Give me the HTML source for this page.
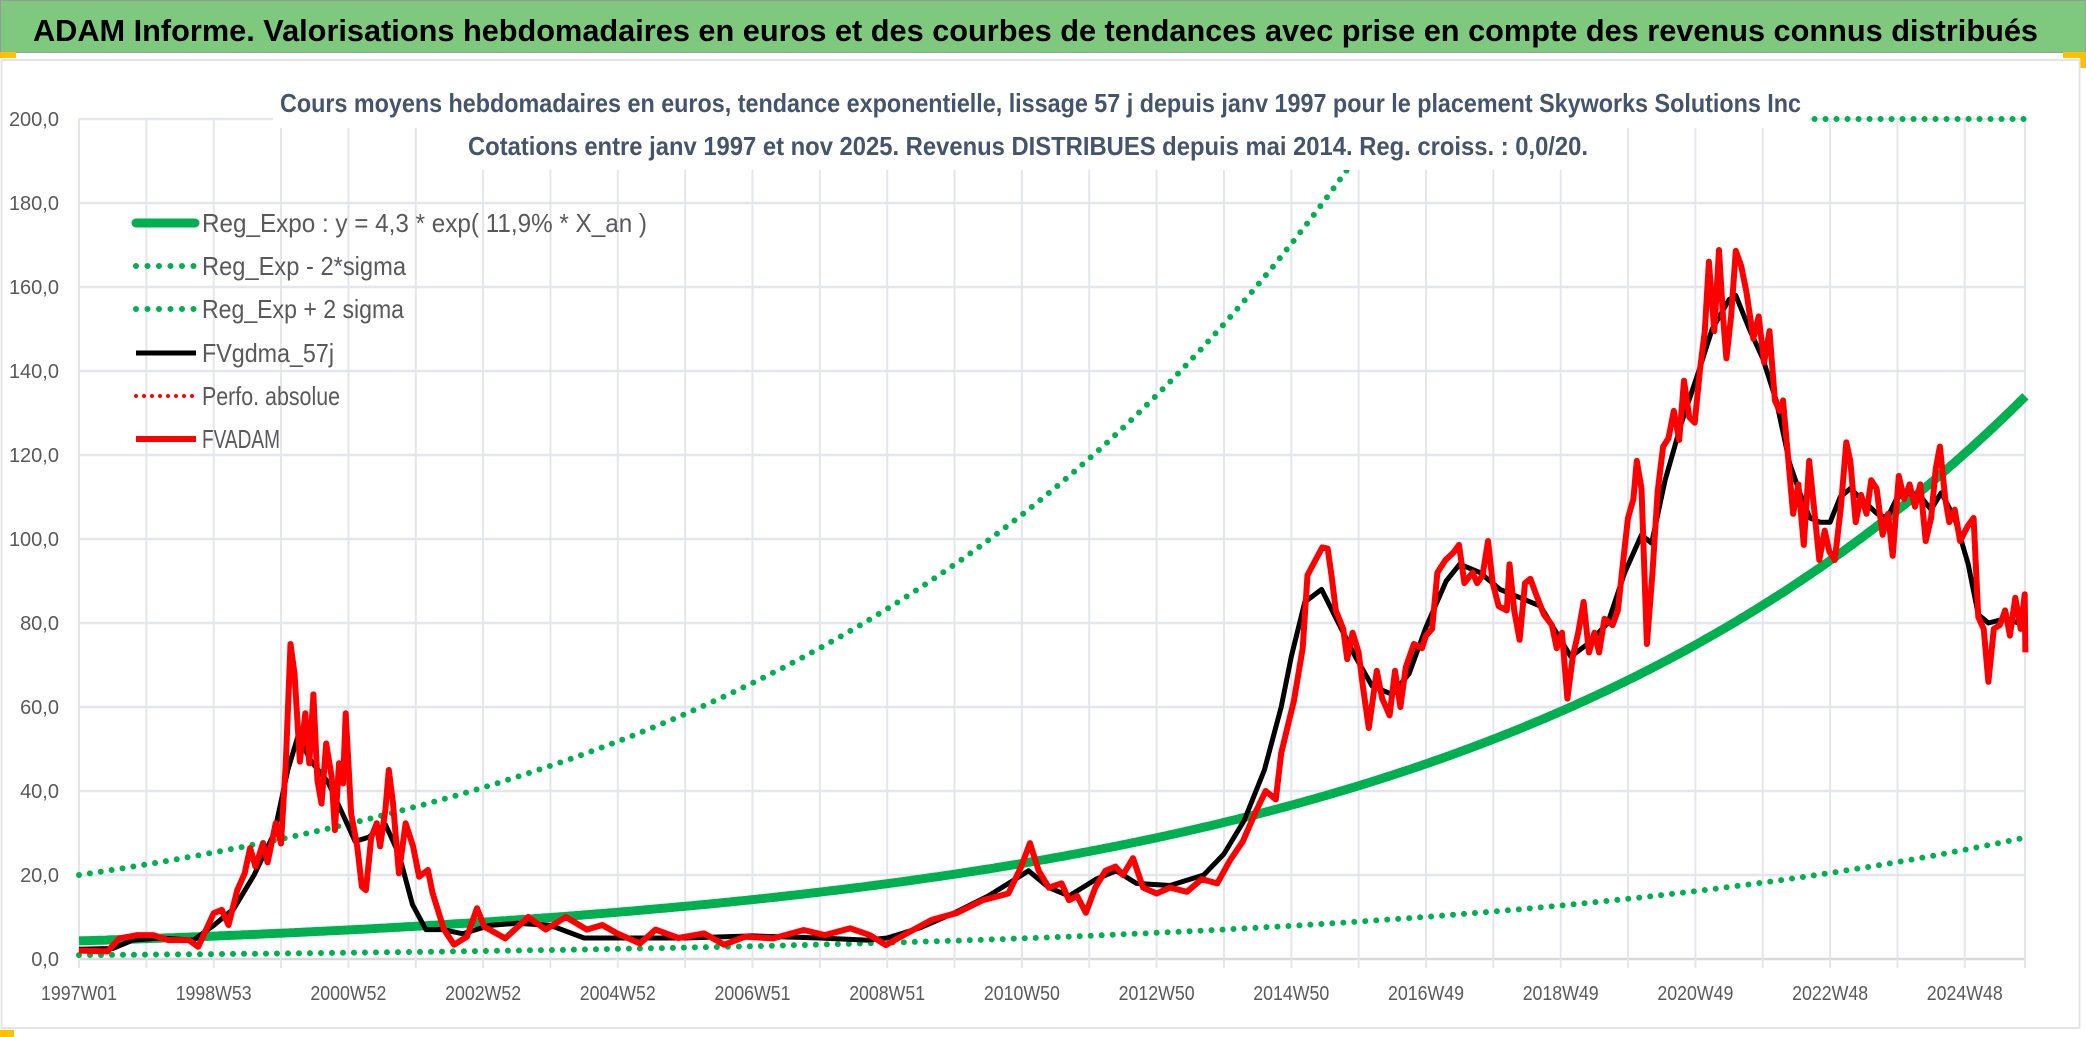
<!DOCTYPE html>
<html><head><meta charset="utf-8"><style>
html,body{margin:0;padding:0;background:#fff;width:2086px;height:1037px;overflow:hidden}
svg{display:block}
text{font-family:"Liberation Sans",sans-serif}
</style></head><body>
<svg id="chart" width="2086" height="1037" viewBox="0 0 2086 1037" xmlns="http://www.w3.org/2000/svg">
<rect x="0" y="0" width="2086" height="1037" fill="#fff"/>
<rect x="0.5" y="0.5" width="2085" height="52" fill="#7fc97f" stroke="#9a9a9a"/>
<text x="33" y="41" font-size="31" font-weight="bold" fill="#000" textLength="2005" lengthAdjust="spacingAndGlyphs">ADAM Informe. Valorisations hebdomadaires en euros et des courbes de tendances avec prise en compte des revenus connus distribués</text>
<rect x="0" y="52" width="16" height="6" fill="#ffc000"/>
<rect x="2063" y="52" width="23" height="6" fill="#ffc000"/>
<rect x="2080" y="52" width="6" height="16" fill="#ffc000"/>
<rect x="0" y="1030" width="14" height="7" fill="#ffc000"/>
<rect x="1.5" y="60" width="2078" height="968" fill="none" stroke="#e2e4e8" stroke-width="2"/>
<g id="grid"></g>
<g id="series"></g>
<rect x="273" y="84" width="1536" height="44" fill="#fff"/>
<rect x="458" y="128" width="1140" height="42" fill="#fff"/>
<text x="280" y="112" font-size="26" font-weight="bold" fill="#44546a" textLength="1521" lengthAdjust="spacingAndGlyphs">Cours moyens hebdomadaires en euros, tendance exponentielle, lissage 57 j depuis janv 1997 pour le placement Skyworks Solutions Inc</text>
<text x="468" y="155" font-size="26" font-weight="bold" fill="#44546a" textLength="1120" lengthAdjust="spacingAndGlyphs">Cotations entre janv 1997 et nov 2025. Revenus DISTRIBUES depuis mai 2014. Reg. croiss. : 0,0/20.</text>
<g id="axes"></g>
<g id="legend">
  <line x1="136" y1="223" x2="195" y2="223" stroke="#00b050" stroke-width="9" stroke-linecap="round"/>
  <text x="202" y="232" font-size="26" fill="#595959" textLength="445" lengthAdjust="spacingAndGlyphs">Reg_Expo : y = 4,3 * exp( 11,9% *  X_an )</text>
  <line x1="136" y1="266" x2="196" y2="266" stroke="#00b050" stroke-width="6" stroke-linecap="round" stroke-dasharray="0 11.5"/>
  <text x="202" y="275" font-size="26" fill="#595959" textLength="204" lengthAdjust="spacingAndGlyphs">Reg_Exp - 2*sigma</text>
  <line x1="136" y1="309" x2="196" y2="309" stroke="#00b050" stroke-width="6" stroke-linecap="round" stroke-dasharray="0 11.5"/>
  <text x="202" y="318" font-size="26" fill="#595959" textLength="202" lengthAdjust="spacingAndGlyphs">Reg_Exp + 2 sigma</text>
  <line x1="136" y1="353" x2="196" y2="353" stroke="#000" stroke-width="5"/>
  <text x="202" y="362" font-size="26" fill="#595959" textLength="132" lengthAdjust="spacingAndGlyphs">FVgdma_57j</text>
  <line x1="136" y1="396" x2="196" y2="396" stroke="#ff0000" stroke-width="4" stroke-linecap="round" stroke-dasharray="0 8"/>
  <text x="202" y="405" font-size="26" fill="#595959" textLength="138" lengthAdjust="spacingAndGlyphs">Perfo. absolue</text>
  <line x1="136" y1="439" x2="196" y2="439" stroke="#ff0000" stroke-width="6"/>
  <text x="202" y="448" font-size="26" fill="#595959" textLength="78" lengthAdjust="spacingAndGlyphs">FVADAM</text>
</g>
</svg>
<script>
const yTicks = [0,20,40,60,80,100,120,140,160,180,200];
const yTickLabels = ["0,0","20,0","40,0","60,0","80,0","100,0","120,0","140,0","160,0","180,0","200,0"];
const xLabelYears = [1997,1999,2001,2003,2005,2007,2009,2011,2013,2015,2017,2019,2021,2023,2025];
const xLabels = ["1997W01","1998W53","2000W52","2002W52","2004W52","2006W51","2008W51","2010W50","2012W50","2014W50","2016W49","2018W49","2020W49","2022W48","2024W48"];
const trendA = 4.3;
const trendRate = 0.119;
const sigmaLowFactor = 0.216;
const sigmaHighFactor = 4.65;
const startYear = 1997.0;
const endYear = 2025.9;
const redT = [1997.0,1997.42,1997.6,1997.87,1998.1,1998.33,1998.63,1998.77,1999.0,1999.12,1999.22,1999.35,1999.46,1999.54,1999.62,1999.73,1999.8,1999.92,2000.0,2000.07,2000.14,2000.2,2000.28,2000.36,2000.42,2000.48,2000.54,2000.6,2000.67,2000.75,2000.8,2000.86,2000.92,2000.96,2001.04,2001.13,2001.2,2001.26,2001.34,2001.42,2001.47,2001.55,2001.6,2001.66,2001.75,2001.85,2001.96,2002.05,2002.18,2002.25,2002.42,2002.57,2002.76,2002.91,2003.02,2003.33,2003.67,2003.93,2004.23,2004.54,2004.77,2004.99,2005.33,2005.56,2005.9,2006.28,2006.58,2006.89,2007.31,2007.76,2008.07,2008.45,2008.74,2008.98,2009.28,2009.66,2010.04,2010.42,2010.8,2010.99,2011.12,2011.25,2011.4,2011.59,2011.7,2011.82,2011.95,2012.09,2012.24,2012.39,2012.5,2012.65,2012.8,2013.0,2013.2,2013.45,2013.67,2013.9,2014.09,2014.28,2014.47,2014.62,2014.77,2014.85,2015.04,2015.17,2015.24,2015.36,2015.46,2015.54,2015.6,2015.66,2015.77,2015.83,2015.91,2016.0,2016.07,2016.15,2016.27,2016.35,2016.46,2016.54,2016.62,2016.7,2016.82,2016.94,2017.0,2017.09,2017.17,2017.29,2017.41,2017.49,2017.57,2017.69,2017.76,2017.84,2017.92,2017.99,2018.08,2018.2,2018.24,2018.31,2018.39,2018.47,2018.55,2018.63,2018.75,2018.87,2018.94,2019.02,2019.1,2019.18,2019.26,2019.34,2019.42,2019.5,2019.57,2019.65,2019.77,2019.85,2019.93,2020.0,2020.08,2020.13,2020.2,2020.28,2020.36,2020.44,2020.52,2020.6,2020.68,2020.76,2020.83,2020.91,2020.99,2021.07,2021.14,2021.2,2021.28,2021.35,2021.41,2021.46,2021.53,2021.6,2021.68,2021.76,2021.86,2021.94,2022.02,2022.1,2022.18,2022.25,2022.3,2022.37,2022.45,2022.53,2022.61,2022.69,2022.76,2022.84,2022.92,2022.99,2023.07,2023.16,2023.24,2023.3,2023.38,2023.46,2023.54,2023.61,2023.69,2023.78,2023.86,2023.93,2024.02,2024.1,2024.18,2024.26,2024.34,2024.42,2024.5,2024.57,2024.63,2024.71,2024.77,2024.85,2024.93,2025.04,2025.13,2025.2,2025.28,2025.35,2025.43,2025.52,2025.6,2025.67,2025.75,2025.83,2025.89,2025.9];
const redV = [2.0,1.8,4.9,5.7,5.7,4.5,4.5,2.9,10.9,11.7,8.1,16.4,20.4,26.4,22,27.5,23,32.3,27.5,46.6,75,68,47,58.5,46.6,63,42.6,37,51.3,43.4,30.7,46.6,41.8,58.5,34.7,26.8,17.2,16.4,29,32.3,26.8,35.5,45,37.3,20.4,32.3,26.8,19.6,21.2,15.7,7,3.4,5.3,12.1,7.7,4.9,10,7,10,7,8.1,6.1,3.7,7,5,6.1,3.4,5.3,4.9,6.9,5.7,7.3,5.7,3.3,6,9.3,11,14,15.6,22,27.6,21,17,18,14,15,11,17,21,22,20,24,17,15.6,17,16,19,18,23.5,28,35,40,38,49,61.6,74,91.4,95,98,97.7,91,83,78.6,71.4,77.7,73,64,55,68.6,62,58,68.6,60,69.5,75,74,77,78.6,92,95,96.8,98.6,89.5,92,89.5,91.4,99.5,89.5,84,83,94,83,76,89.5,90.5,87,82,79.5,74,77.7,62,72,77.7,85,73,77.7,73,81,79.5,83,95,105,109.5,118.6,112,75,91.4,111.4,122,124,130.5,123.6,137.7,129,127.7,140.5,149.5,166,149.5,168.8,153,143,153,168.6,165,158.6,147.7,153,142,149.5,133,130.5,133,120.5,106,113,98.6,118.6,107.7,95,102,97,95,107.7,123,118.6,104,110.5,106,114,112,101,106,96,115,109.5,113,107.7,113,99.5,105,116.8,122,109.5,104,107,99.5,103,105,81.4,78.6,66,78.6,79.5,83,77,86,78.6,86.8,73];
const blkT = [1997.0,1997.5,1997.8,1998.2,1998.7,1999.0,1999.3,1999.6,1999.9,2000.1,2000.25,2000.45,2000.7,2000.9,2001.1,2001.3,2001.55,2001.75,2001.95,2002.15,2002.4,2002.7,2003.1,2003.5,2004.0,2004.5,2005.0,2005.5,2006.0,2007.0,2008.0,2008.7,2009.0,2009.5,2010.0,2010.5,2010.9,2011.1,2011.4,2011.7,2012.1,2012.4,2012.7,2013.2,2013.7,2014.0,2014.3,2014.6,2014.85,2015.0,2015.2,2015.45,2015.7,2015.95,2016.2,2016.5,2016.75,2017.0,2017.3,2017.5,2017.8,2018.1,2018.4,2018.7,2019.0,2019.15,2019.4,2019.7,2019.95,2020.2,2020.35,2020.55,2020.8,2021.05,2021.25,2021.5,2021.6,2021.8,2022.0,2022.2,2022.4,2022.55,2022.7,2022.85,2023.0,2023.15,2023.3,2023.5,2023.7,2023.85,2024.0,2024.2,2024.35,2024.5,2024.65,2024.85,2025.05,2025.2,2025.35,2025.6,2025.8,2025.9];
const blkV = [2.3,2.5,4.5,5,4.5,8,12,20,30,45,53,47,42,35,28,29,32,25,13,7,7,6,8,8.5,8,5,5,5,5,5.5,5,4.5,5,7.5,11,15,19,21,17,15,19,21,18,17.5,20,25,33,45,60,72,85,88,80,72,65,63,68,79,90,94,92,88,86,84,76,72,75,80,92,101,99,114,128,140,150,157,158,150,143,133,118,111,105,104,104,110,112,109,106,105,110,111,110,107,111,105,94,82,80,81,80,78];

const NS = "http://www.w3.org/2000/svg";
const X0 = 79, PXY = 67.35, Y0 = 959, PXV = 4.2, XR = 2025;
function xs(t){ return X0 + (t - startYear) * PXY; }
function ys(v){ return Y0 - v * PXV; }
function mk(tag, attrs, parent){ const e = document.createElementNS(NS, tag); for (const k in attrs) e.setAttribute(k, attrs[k]); parent.appendChild(e); return e; }

const grid = document.getElementById('grid');
const axes = document.getElementById('axes');
const series = document.getElementById('series');

yTicks.forEach((v, i) => {
  const l = mk('line', {x1: X0, x2: XR, y1: ys(v), y2: ys(v), stroke: v === 0 ? '#d9d9d9' : '#e3e6ec', 'stroke-width': 2.5}, grid);
  
  
  const tx = mk('text', {x: 59, y: ys(v) + 7, 'text-anchor': 'end', 'font-size': 20, fill: '#595959'}, axes);
  tx.textContent = yTickLabels[i];
  
  
});
for (let y = Math.ceil(startYear); y <= Math.floor(endYear); y++) {
  const l = mk('line', {x1: xs(y), x2: xs(y), y1: ys(200), y2: Y0 + 9, stroke: '#e3e6ec', 'stroke-width': 2}, grid);
  
  
}
const rightEdge = mk('line', {x1: XR, x2: XR, y1: ys(200), y2: Y0 + 9, stroke: '#e3e6ec', 'stroke-width': 2}, grid);


xLabelYears.forEach((y, i) => {
  const tx = mk('text', {x: xs(y), y: 1000, 'text-anchor': 'middle', 'font-size': 20, fill: '#595959', textLength: 76, lengthAdjust: 'spacingAndGlyphs'}, axes);
  tx.textContent = xLabels[i];
  
  
});

function trendPts(factor){
  const pts = [];
  for (let t = startYear; t <= endYear + 1e-9; t += 0.05) {
    let v = trendA * factor * Math.exp(trendRate * (t - startYear));
    if (v > 200) v = 200;
    pts.push(xs(t).toFixed(1) + ',' + ys(v).toFixed(1));
  }
  return pts.join(' ');
}
function seriesPts(T, V){ return T.map((t, i) => xs(t).toFixed(1) + ',' + ys(V[i]).toFixed(1)).join(' '); }

const pMain = mk('polyline', {points: trendPts(1), fill: 'none', stroke: '#00b050', 'stroke-width': 9}, series);


const pLow = mk('polyline', {points: trendPts(sigmaLowFactor), fill: 'none', stroke: '#00b050', 'stroke-width': 6, 'stroke-linecap': 'round', 'stroke-dasharray': '0 11'}, series);


const pHigh = mk('polyline', {points: trendPts(sigmaHighFactor), fill: 'none', stroke: '#00b050', 'stroke-width': 6, 'stroke-linecap': 'round', 'stroke-dasharray': '0 11'}, series);


const pBlk = mk('polyline', {points: seriesPts(blkT, blkV), fill: 'none', stroke: '#000', 'stroke-width': 5, 'stroke-linejoin': 'round'}, series);


const pRed = mk('polyline', {points: seriesPts(redT, redV), fill: 'none', stroke: '#ff0000', 'stroke-width': 6, 'stroke-linejoin': 'round'}, series);


</script>
</body></html>
